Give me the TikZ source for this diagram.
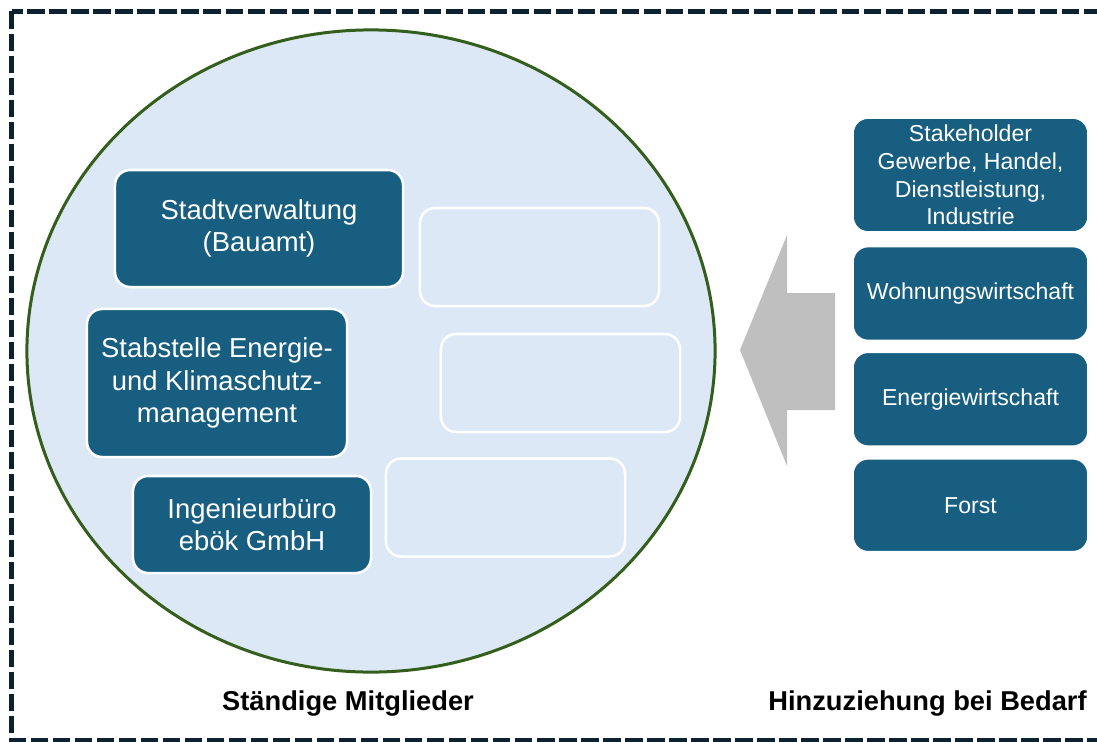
\documentclass[tikz,border=0pt]{standalone}
\usepackage{fontspec}
\setmainfont{Liberation Sans}
\usetikzlibrary{positioning}

\definecolor{boxblue}{RGB}{24,94,128}
\definecolor{circfill}{RGB}{220,232,245}
\definecolor{circline}{RGB}{52,94,28}
\definecolor{framecol}{RGB}{12,34,48}
\definecolor{arrowgray}{RGB}{191,191,191}

\begin{document}
\begin{tikzpicture}[
	x = 0.025cm, y = -0.025cm, % one unit = one pixel of the layout
	node distance = 0.32cm, % gap between the boxes on the right
	M/.style={rectangle, rounded corners=0.38cm, draw=white, line width=1.8pt, fill=boxblue, text=white, inner sep=0pt, align=center, font=\fontsize{19.5}{23.1}\selectfont},  %members
	E/.style={rectangle, rounded corners=0.38cm, draw=white, line width=1.8pt, inner sep=0pt, minimum width=5.975cm, minimum height=2.45cm},  %empty slots
	B/.style={rectangle, rounded corners=0.38cm, draw=white, line width=1.2pt, fill=boxblue, text=white, inner sep=0pt, align=center, minimum width=5.875cm, font=\fontsize{16.4}{19.7}\selectfont},  %on demand
	L/.style={font=\fontsize{19.4}{23}\selectfont\bfseries},  %captions
	]
	\useasboundingbox (0,0) rectangle (1097,742);

	% dashed frame and circle
	\draw[framecol, line width=0.118cm, dash pattern=on 0.43cm off 0.12cm] (11.5,11.5) rectangle (1115,740);
	\draw[fill=circfill, draw=circline, line width=0.075cm] (371,351) ellipse [x radius=8.6cm, y radius=8.025cm];

	% Nodes inside the circle
	\node[M, minimum width=7.2cm, minimum height=2.925cm] (amt) at (259,228.5) {Stadtverwaltung\\(Bauamt)};
	\node[M, minimum width=6.5cm, minimum height=3.7cm] (stab) at (217,383) {Stabstelle Energie-\\und Klimaschutz-\\management};
	\node[M, minimum width=5.95cm, minimum height=2.425cm] (ing) at (252,524.5) {Ingenieurbüro\\ebök GmbH};

	\node[E] (e1) at (539.5,257) {};
	\node[E] (e2) at (560.5,383) {};
	\node[E] (e3) at (505.5,507.5) {};

	% Nodes on the right and their relative positions
	\node[B, minimum height=2.85cm] (stake) at (970.5,175) {Stakeholder\\Gewerbe, Handel,\\Dienstleistung,\\Industrie};
	\node[B, minimum height=2.35cm] (wohn) [below = of stake] {Wohnungswirtschaft};
	\node[B, minimum height=2.35cm] (energie) [below = 0.25cm of wohn] {Energiewirtschaft};
	\node[B, minimum height=2.325cm] (forst) [below = 0.27cm of energie] {Forst};

	% big arrow
	\fill[arrowgray] (740,350) -- (787,235) -- (787,293) -- (835,293) -- (835,410) -- (787,410) -- (787,466) -- cycle;

	% captions
	\node[L] (mitglieder) at (348,703) {Ständige Mitglieder};
	\node[L] (bedarf) at (927.5,703) {Hinzuziehung bei Bedarf};

\end{tikzpicture}
\end{document}
